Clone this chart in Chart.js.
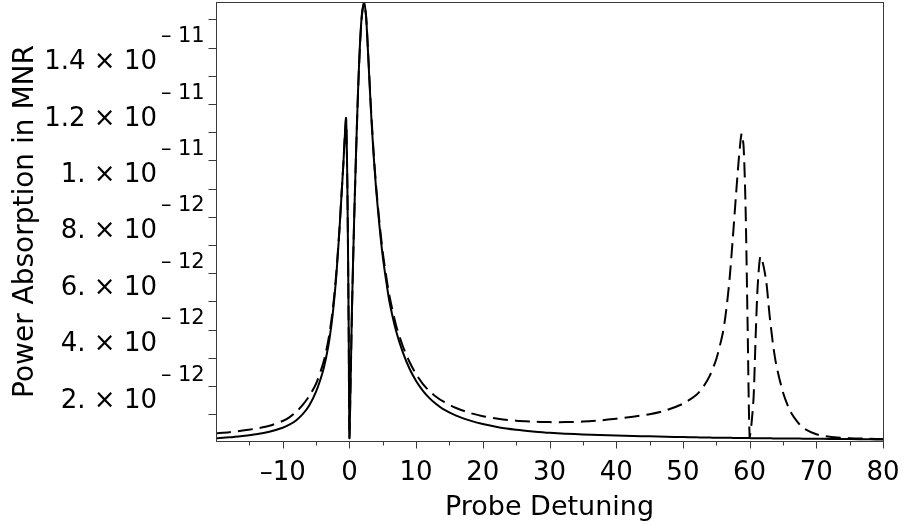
<!DOCTYPE html>
<html>
<head>
<meta charset="utf-8">
<script src="https://cdn.jsdelivr.net/npm/chart.js@4/dist/chart.umd.min.js"></script>
<style>
  html, body { margin: 0; padding: 0; background: #ffffff; }
  #wrap { width: 904px; height: 525px; }
</style>
</head>
<body>
<div id="wrap"><canvas id="chart" width="904" height="525"></canvas></div>
<script>
// Probe detuning grid (shared by both curves)
const detuning = [
  -20, -18, -16, -14, -12, -10, -9, -8, -7, -6, -5, -4, -3.5, -3, -2.5, -2, -1.5, -1.2, -0.9, -0.7,
  -0.5, -0.3, -0.1, 0, 0.2, 0.4, 0.7, 1.0, 1.3, 1.6, 1.9, 2.2, 2.5, 2.8, 3.2, 3.6, 4, 4.5, 5, 5.5,
  6, 7, 8, 9, 10, 11, 12, 13, 14, 16, 18, 20, 22.5, 25, 27.5, 30, 32.5, 35, 37.5, 40,
  42.5, 45, 47.5, 50, 52, 53, 54, 55, 56, 56.5, 57, 57.5, 58, 58.4, 58.8, 59.1, 59.4, 59.7, 60, 60.3,
  60.6, 60.9, 61.2, 61.6, 62, 62.5, 63, 63.5, 64, 65, 66, 67, 68, 70, 72, 75, 78, 80
];

// Power absorption, in units of 1e-12 (solid curve)
const absorptionSolid = [
  0.15, 0.18, 0.23, 0.29, 0.38, 0.52, 0.63, 0.78, 1.00, 1.32, 1.80, 2.50, 3.00, 3.65, 4.55, 5.80, 7.50, 8.70, 9.90, 10.80,
  11.50, 9.00, 3.80, 0.15, 2.40, 4.90, 7.80, 10.30, 12.50, 14.20, 15.25, 15.60, 15.10, 13.80, 11.90, 10.30, 9.00, 7.70, 6.60, 5.75,
  5.00, 3.95, 3.20, 2.62, 2.18, 1.84, 1.57, 1.36, 1.19, 0.95, 0.78, 0.65, 0.53, 0.45, 0.39, 0.34, 0.31, 0.28, 0.26, 0.245,
  0.23, 0.215, 0.20, 0.19, 0.18, 0.175, 0.17, 0.168, 0.165, 0.163, 0.162, 0.16, 0.158, 0.157, 0.156, 0.155, 0.154, 0.153, 0.152, 0.151,
  0.15, 0.149, 0.148, 0.147, 0.146, 0.145, 0.144, 0.143, 0.142, 0.14, 0.138, 0.136, 0.134, 0.13, 0.125, 0.118, 0.11, 0.105
];

// Power absorption, in units of 1e-12 (dashed curve)
const absorptionDashed = [
  0.32, 0.36, 0.42, 0.49, 0.59, 0.76, 0.89, 1.08, 1.33, 1.65, 2.08, 2.75, 3.22, 3.85, 4.70, 5.90, 7.55, 8.72, 9.90, 10.80,
  11.45, 9.00, 3.80, 0.18, 2.40, 4.85, 7.75, 10.25, 12.45, 14.15, 15.20, 15.55, 15.12, 13.85, 12.00, 10.40, 9.10, 7.82, 6.75, 5.92,
  5.20, 4.15, 3.42, 2.86, 2.42, 2.08, 1.82, 1.62, 1.46, 1.22, 1.05, 0.93, 0.83, 0.77, 0.74, 0.72, 0.72, 0.74, 0.78, 0.84,
  0.91, 1.00, 1.14, 1.37, 1.68, 1.95, 2.35, 2.95, 3.90, 4.70, 5.80, 7.30, 8.90, 10.10, 10.95, 10.50, 8.30, 4.20, 0.20, 0.70,
  1.60, 3.70, 5.50, 6.60, 6.35, 5.70, 4.50, 3.50, 2.75, 1.78, 1.15, 0.78, 0.52, 0.29, 0.20, 0.15, 0.13, 0.12
];

// Axis ticks
const xMajorTicks = [-10, 0, 10, 20, 30, 40, 50, 60, 70, 80];
const xTickLabels = ['\u201310', '0', '10', '20', '30', '40', '50', '60', '70', '80'];
const xMinorTicks = [-15, -5, 5, 15, 25, 35, 45, 55, 65, 75];
const yMajorTicks = [2, 4, 6, 8, 10, 12, 14];
const yTickMantissas = ['2.', '4.', '6.', '8.', '1.', '1.2', '1.4'];
const yTickExponents = ['12', '12', '12', '12', '11', '11', '11'];
const yMinorTicks = [1, 3, 5, 7, 9, 11, 13, 15];

const xTitle = 'Probe Detuning';
const yTitle = 'Power Absorption in MNR';

const FONT = '"DejaVu Sans", "Liberation Sans", sans-serif';
const FRAME = '#3a3a3a';

const toPoints = (ys) => detuning.map((x, i) => ({ x: x, y: ys[i] }));

// Frame, ticks, Maple-style tick labels and axis titles
const axesPlugin = {
  id: 'mapleAxes',
  afterDraw(chart) {
    const ctx = chart.ctx;
    const a = chart.chartArea;
    const sx = chart.scales.x;
    const sy = chart.scales.y;
    ctx.save();

    // frame
    ctx.strokeStyle = FRAME;
    ctx.lineWidth = 1;
    ctx.strokeRect(Math.round(a.left) + 0.5, Math.round(a.top) + 0.5,
                   Math.round(a.right - a.left), Math.round(a.bottom - a.top));

    // x ticks
    ctx.beginPath();
    const yb = Math.round(a.bottom) + 0.5;
    xMajorTicks.forEach(v => {
      const px = Math.round(sx.getPixelForValue(v)) + 0.5;
      ctx.moveTo(px, yb); ctx.lineTo(px, yb + 7);
    });
    xMinorTicks.forEach(v => {
      const px = Math.round(sx.getPixelForValue(v)) + 0.5;
      ctx.moveTo(px, yb); ctx.lineTo(px, yb + 4);
    });
    // y ticks
    const xl = Math.round(a.left) + 0.5;
    yMajorTicks.concat(yMinorTicks).forEach(v => {
      const py = Math.round(sy.getPixelForValue(v)) + 0.5;
      ctx.moveTo(xl, py); ctx.lineTo(xl - 8, py);
    });
    ctx.stroke();

    ctx.fillStyle = '#000';
    // x tick labels
    ctx.font = '26px ' + FONT;
    ctx.textAlign = 'center';
    ctx.textBaseline = 'alphabetic';
    xMajorTicks.forEach((v, i) => {
      ctx.fillText(xTickLabels[i], sx.getPixelForValue(v), 480);
    });

    // y tick labels: mantissa x 10 with a raised exponent
    yMajorTicks.forEach((v, i) => {
      const py = sy.getPixelForValue(v);
      ctx.font = '26px ' + FONT;
      ctx.textAlign = 'right';
      ctx.fillText(yTickMantissas[i] + ' \u00d7 10', 157, py + 21.5);
      ctx.font = '21px ' + FONT;
      ctx.textAlign = 'left';
      ctx.fillText('\u2013', 161, py - 5.5);
      ctx.fillText(yTickExponents[i], 178, py - 5.5);
    });

    // axis titles
    ctx.font = '27px ' + FONT;
    ctx.textAlign = 'center';
    ctx.fillText(xTitle, (a.left + a.right) / 2, 515);
    ctx.save();
    ctx.translate(33, (a.top + a.bottom) / 2);
    ctx.rotate(-Math.PI / 2);
    ctx.font = '28px ' + FONT;
    ctx.fillText(yTitle, 0, 0);
    ctx.restore();

    ctx.restore();
  }
};

new Chart(document.getElementById('chart'), {
  type: 'line',
  data: {
    datasets: [
      {
        label: 'solid',
        data: toPoints(absorptionSolid),
        borderColor: '#000',
        borderWidth: 2,
        pointRadius: 0,
        tension: 0.25,
        fill: false
      },
      {
        label: 'dashed',
        data: toPoints(absorptionDashed),
        borderColor: '#000',
        borderWidth: 2,
        borderDash: [15, 7],
        pointRadius: 0,
        tension: 0.25,
        fill: false
      }
    ]
  },
  options: {
    responsive: false,
    animation: false,
    devicePixelRatio: 1,
    layout: { padding: { left: 216, right: 21, top: 2, bottom: 84 } },
    plugins: { legend: { display: false }, tooltip: { enabled: false } },
    scales: {
      x: { type: 'linear', min: -20, max: 80, display: false },
      y: { type: 'linear', min: 0.05, max: 15.62, display: false }
    }
  },
  plugins: [axesPlugin]
});
</script>
</body>
</html>
